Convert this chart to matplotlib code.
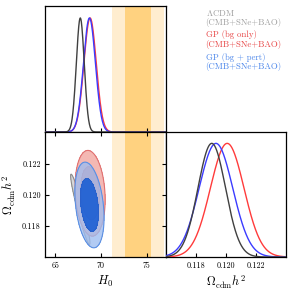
import numpy as np
import matplotlib
matplotlib.use("Agg")
import matplotlib.pyplot as plt

plt.rcParams['mathtext.fontset'] = 'cm'
plt.rcParams['font.family'] = ['cmr10', 'DejaVu Serif']
plt.rcParams['axes.formatter.use_mathtext'] = True

# ---- data ----
models = ["LCDM", "GP_bg", "GP_pert"]
legend_lines = [["$\\Lambda$CDM", "(CMB+SNe+BAO)"],
                ["GP (bg only)", "(CMB+SNe+BAO)"],
                ["GP (bg + pert)", "(CMB+SNe+BAO)"]]
h0_mean = [67.75, 68.82, 68.75]
h0_sigma = [0.43, 0.67, 0.65]
och2_mean = [0.11907, 0.12010, 0.11935]
och2_sigma = [0.00092, 0.00112, 0.00112]
corr = [-0.95, -0.15, -0.30]
# SH0ES prior on H0
shoes_mean = 74.03
shoes_sigma = 1.42

h0_ticks = [65, 70, 75]
och2_ticks = [0.118, 0.120, 0.122]
h0_lim = (63.9, 77.1)
och2_lim = (0.11602, 0.12402)

line_cols = ['#404040', '#FF3B3B', '#3B3BFF']
legend_cols = ['#A0A0A0', '#E84545', '#4A85EA']
fill_outer = ['#D8D8D8', '#F4B8B3', '#9DBDF0']
fill_inner = ['#A8A8A8', '#E88A86', '#1F64D8']
edge_outer = ['#8C8C8C', '#E07070', '#5B8FE2']
edge_inner = ['#8C8C8C', '#E07070', '#2A5FC8']
fill_alpha = [1.0, 1.0, 0.78]

fig = plt.figure(figsize=(2.93, 2.93), dpi=100)
L, M, R = 45/293, 166/293, 286/293
T, C, B = 1-6/293, 1-132/293, 1-257/293
ax_h = fig.add_axes([L, C, M-L, T-C])
ax_2d = fig.add_axes([L, B, M-L, C-B])
ax_o = fig.add_axes([M, B, R-M, C-B])

for ax in (ax_h, ax_2d):
    ax.axvspan(shoes_mean-2*shoes_sigma, shoes_mean+2*shoes_sigma, color='#FFEDCF', lw=0, zorder=0)
    ax.axvspan(shoes_mean-shoes_sigma, shoes_mean+shoes_sigma, color='#FFD280', lw=0, zorder=0)

xh = np.linspace(h0_lim[0], h0_lim[1], 600)
xo = np.linspace(och2_lim[0], och2_lim[1], 600)
for i in [1, 2, 0]:
    ax_h.plot(xh, np.exp(-0.5*((xh-h0_mean[i])/h0_sigma[i])**2), color=line_cols[i], lw=1.0, zorder=3)
for i in [1, 2, 0]:
    ax_o.plot(xo, np.exp(-0.5*((xo-och2_mean[i])/och2_sigma[i])**2), color=line_cols[i], lw=1.0, zorder=3)

gx, gy = np.meshgrid(np.linspace(h0_lim[0], h0_lim[1], 400), np.linspace(och2_lim[0], och2_lim[1], 400))
lev95, lev68 = np.exp(-5.991/2), np.exp(-2.296/2)
for i in range(3):
    dx = (gx-h0_mean[i])/h0_sigma[i]
    dy = (gy-och2_mean[i])/och2_sigma[i]
    r = corr[i]
    q = (dx**2 - 2*r*dx*dy + dy**2)/(1-r**2)
    p = np.exp(-0.5*q)
    z = 2 + i
    ax_2d.contourf(gx, gy, p, levels=[lev95, lev68], colors=[fill_outer[i]], alpha=fill_alpha[i], zorder=z)
    ax_2d.contourf(gx, gy, p, levels=[lev68, 2], colors=[fill_inner[i]], alpha=1.0 if i < 2 else 0.95, zorder=z)
    ax_2d.contour(gx, gy, p, levels=[lev95], colors=[edge_outer[i]], linewidths=0.8, zorder=z)
    ax_2d.contour(gx, gy, p, levels=[lev68], colors=[edge_inner[i]], linewidths=0.6, zorder=z)

for ax in (ax_h, ax_2d):
    ax.set_xlim(*h0_lim)
    ax.set_xticks(h0_ticks)
ax_2d.set_ylim(*och2_lim)
ax_2d.set_yticks(och2_ticks)
ax_o.set_xlim(*och2_lim)
ax_o.set_xticks(och2_ticks)
ax_h.set_ylim(0, 1.105)
ax_o.set_ylim(0, 1.1)

for ax in (ax_h, ax_2d, ax_o):
    for s in ax.spines.values():
        s.set_linewidth(0.9)
    ax.tick_params(direction='in', length=3, width=0.8, labelsize=5.8, pad=3)

ax_h.tick_params(labelbottom=False, left=False, labelleft=False)
ax_2d.tick_params(top=True, right=True)
ax_o.tick_params(left=False, labelleft=False)
ax_2d.set_xticklabels([str(t) for t in h0_ticks])
ax_2d.set_yticklabels(["%.3f" % t for t in och2_ticks])
ax_o.set_xticklabels(["%.3f" % t for t in och2_ticks])

ax_2d.set_xlabel("$H_0$", fontsize=8.8, labelpad=3)
ax_2d.set_ylabel("$\\Omega_\\mathrm{cdm}h^2$", fontsize=8.8, labelpad=3)
ax_o.set_xlabel("$\\Omega_\\mathrm{cdm}h^2$", fontsize=8.8, labelpad=3)

ys = [13.3, 22.7, 34.3, 44.3, 57.7, 66.7]
k = 0
for i in range(3):
    for line in legend_lines[i]:
        fig.text(205.5/293, 1-ys[k]/293, line, color=legend_cols[i], fontsize=6.3,
                 ha='left', va='center')
        k += 1

fig.savefig("out.png", dpi=100)
